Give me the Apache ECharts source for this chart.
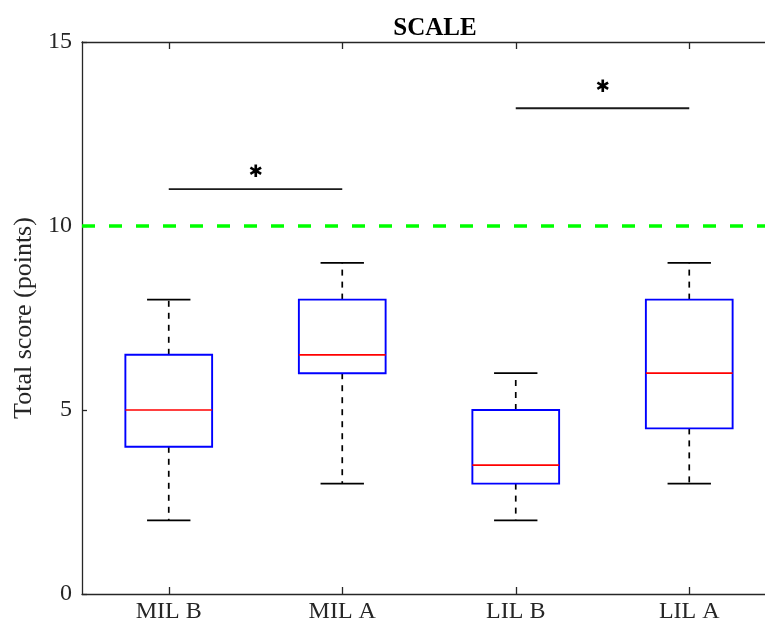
<!DOCTYPE html>
<html>
<head>
<meta charset="utf-8">
<script src="https://cdn.jsdelivr.net/npm/echarts@6/dist/echarts.min.js"></script>
<style>html,body{margin:0;padding:0;background:#fff;overflow:hidden}#c{width:800px;height:625px}</style>
</head>
<body>
<div id="c"></div>
<script>
const categories = ['MIL B', 'MIL A', 'LIL B', 'LIL A'];
const whiskerLow = [2, 3, 2, 3];
const q1 = [4, 6, 3, 4.5];
const median = [5, 6.5, 3.5, 6];
const q3 = [6.5, 8, 5, 8];
const whiskerHigh = [8, 9, 6, 9];
const thresholdValue = 10;
const sigFrom = [0, 2];
const sigTo = [1, 3];
const sigBarY = [11, 13.2];
const sigStarY = [11.45, 13.75];
const yTicks = [0, 5, 10, 15];

const boxData = categories.map((c, i) => [i, whiskerLow[i], q1[i], median[i], q3[i], whiskerHigh[i]]);
const sigData = sigFrom.map((f, i) => [f, sigTo[i], sigBarY[i], sigStarY[i]]);

const serif = 'Liberation Serif';
const axisColor = '#262626';

const chart = echarts.init(document.getElementById('c'));
chart.setOption({
  animation: false,
  title: {
    text: 'SCALE', left: 430, top: 11, textAlign: 'center',
    textStyle: { fontFamily: serif, fontWeight: 'bold', fontSize: 25, color: '#000' }
  },
  grid: { left: 82, top: 42, width: 694, height: 552 },
  xAxis: [{
    type: 'category', data: categories, position: 'bottom',
    axisLine: { lineStyle: { color: axisColor, width: 1.3 } },
    axisTick: { show: true, inside: true, alignWithLabel: true, length: 7, lineStyle: { color: axisColor, width: 1.3 } },
    axisLabel: { fontFamily: serif, fontSize: 24, color: axisColor, margin: 6 },
    splitLine: { show: false }
  }, {
    type: 'category', data: categories, position: 'top',
    axisLine: { lineStyle: { color: axisColor, width: 1.3 } },
    axisTick: { show: true, inside: true, alignWithLabel: true, length: 7, lineStyle: { color: axisColor, width: 1.3 } },
    axisLabel: { show: false }
  }],
  yAxis: {
    type: 'value', min: 0, max: 15, interval: 5,
    name: 'Total score (points)', nameLocation: 'middle', nameGap: 45, nameRotate: 90,
    nameTextStyle: { fontFamily: serif, fontSize: 26, color: axisColor },
    axisLine: { show: true, lineStyle: { color: axisColor, width: 1.3 } },
    axisTick: { show: true, inside: true, length: 5, lineStyle: { color: axisColor, width: 1.3 } },
    axisLabel: { fontFamily: serif, fontSize: 24, color: axisColor, margin: 10,
      formatter: v => yTicks.includes(v) ? String(v) : '' },
    splitLine: { show: false }
  },
  series: [{
    type: 'custom',
    xAxisIndex: 0,
    data: boxData,
    encode: { x: 0, y: [1, 2, 3, 4, 5] },
    renderItem: function (params, api) {
      const x = api.value(0);
      const band = api.size([1, 0])[0];
      const bw = band * 0.5, cw = band * 0.25;
      const pLow = api.coord([x, api.value(1)]);
      const pQ1 = api.coord([x, api.value(2)]);
      const pMed = api.coord([x, api.value(3)]);
      const pQ3 = api.coord([x, api.value(4)]);
      const pHigh = api.coord([x, api.value(5)]);
      const cx = pMed[0];
      const dashStyle = { stroke: '#000', lineWidth: 1.7, lineDash: [6, 6] };
      const solid = { stroke: '#000', lineWidth: 1.8 };
      return {
        type: 'group',
        children: [
          { type: 'line', shape: { x1: cx, y1: pQ1[1], x2: cx, y2: pLow[1] }, style: dashStyle },
          { type: 'line', shape: { x1: cx, y1: pQ3[1], x2: cx, y2: pHigh[1] }, style: dashStyle },
          { type: 'line', shape: { x1: cx - cw / 2, y1: pLow[1], x2: cx + cw / 2, y2: pLow[1] }, style: solid },
          { type: 'line', shape: { x1: cx - cw / 2, y1: pHigh[1], x2: cx + cw / 2, y2: pHigh[1] }, style: solid },
          { type: 'rect', shape: { x: cx - bw / 2, y: pQ3[1], width: bw, height: pQ1[1] - pQ3[1] },
            style: { fill: 'none', stroke: '#0000ff', lineWidth: 1.9 } },
          { type: 'line', shape: { x1: cx - bw / 2, y1: pMed[1], x2: cx + bw / 2, y2: pMed[1] },
            style: { stroke: '#ff0000', lineWidth: 1.7 } }
        ]
      };
    },
    markLine: {
      silent: true, symbol: 'none', label: { show: false },
      lineStyle: { color: '#00ff00', type: [13, 14], width: 3.5 },
      data: [{ yAxis: thresholdValue }]
    },
    z: 3
  }, {
    type: 'custom',
    xAxisIndex: 0,
    data: sigData,
    encode: { x: [0, 1], y: [2, 3] },
    renderItem: function (params, api) {
      const a = api.coord([api.value(0), api.value(2)]);
      const b = api.coord([api.value(1), api.value(2)]);
      const s = api.coord([api.value(0), api.value(3)]);
      const mx = (a[0] + b[0]) / 2;
      return {
        type: 'group',
        children: [
          { type: 'line', shape: { x1: a[0], y1: a[1], x2: b[0], y2: b[1] },
            style: { stroke: '#1a1a1a', lineWidth: 1.8 } },
          { type: 'text', x: mx, y: s[1],
            style: { text: '✱', fill: '#000', fontSize: 17, align: 'center', verticalAlign: 'middle',
              fontFamily: 'DejaVu Sans' } }
        ]
      };
    },
    z: 4
  }]
});
</script>
</body>
</html>
